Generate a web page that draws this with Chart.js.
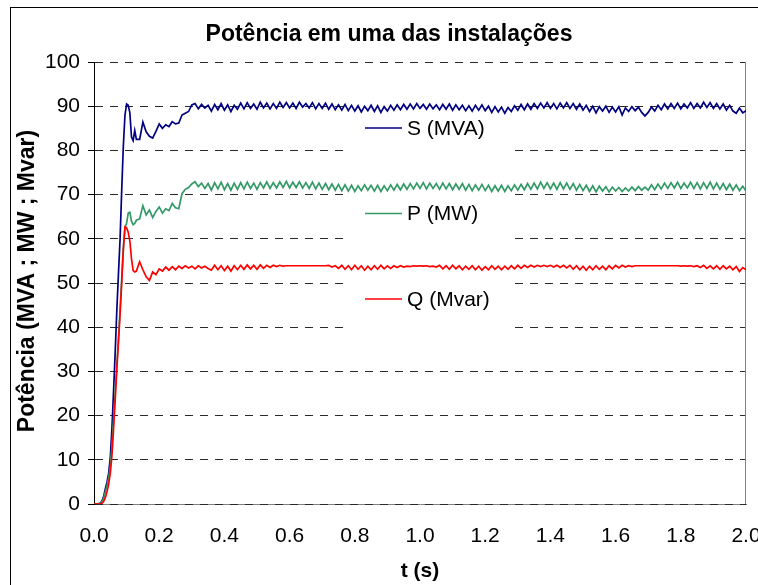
<!DOCTYPE html>
<html>
<head>
<meta charset="utf-8">
<script src="https://cdn.jsdelivr.net/npm/chart.js@4/dist/chart.umd.min.js"></script>
<style>
html,body{margin:0;padding:0;background:#fff;}
#wrap{width:758px;height:585px;}
</style>
</head>
<body>
<div id="wrap"><canvas id="c" width="758" height="585"></canvas></div>
<script>
// ---------- DATA ----------
const chartTitle = 'Potência em uma das instalações';
const xAxisTitle = 't (s)';
const yAxisTitle = 'Potência (MVA ; MW ; Mvar)';
const seriesNames = ['S (MVA)', 'P (MW)', 'Q (Mvar)'];

const xTickValues = [0,0.2,0.4,0.6,0.8,1.0,1.2,1.4,1.6,1.8,2.0];
const xTickLabels = ['0.0','0.2','0.4','0.6','0.8','1.0','1.2','1.4','1.6','1.8','2.0'];
const yTickValues = [0,10,20,30,40,50,60,70,80,90,100];
const yTickLabels = ['0','10','20','30','40','50','60','70','80','90','100'];

const time = [
0,0.01,0.02,0.025,0.03,0.035,0.04,0.045,0.05,0.055,0.06,0.065,0.07,0.075,0.08,0.085,0.09,0.095,0.10,0.105,0.11,0.115,0.12,0.125,0.13,
0.14,0.15,0.16,0.17,0.18,0.19,0.20,0.21,0.22,0.23,0.24,0.25,0.26,0.27,0.28,0.29,0.30,0.31,0.32,0.33,0.34,0.35,
0.36,0.37,0.38,0.39,0.40,0.41,0.42,0.43,0.44,0.45,
0.46,0.47,0.48,0.49,0.50,0.51,0.52,0.53,0.54,0.55,
0.56,0.57,0.58,0.59,0.60,0.61,0.62,0.63,0.64,0.65,
0.66,0.67,0.68,0.69,0.70,0.71,0.72,0.73,0.74,0.75,
0.76,0.77,0.78,0.79,0.80,0.81,0.82,0.83,0.84,0.85,
0.86,0.87,0.88,0.89,0.90,0.91,0.92,0.93,0.94,0.95,
0.96,0.97,0.98,0.99,1.00,1.01,1.02,1.03,1.04,1.05,
1.06,1.07,1.08,1.09,1.10,1.11,1.12,1.13,1.14,1.15,
1.16,1.17,1.18,1.19,1.20,1.21,1.22,1.23,1.24,1.25,
1.26,1.27,1.28,1.29,1.30,1.31,1.32,1.33,1.34,1.35,
1.36,1.37,1.38,1.39,1.40,1.41,1.42,1.43,1.44,1.45,
1.46,1.47,1.48,1.49,1.50,1.51,1.52,1.53,1.54,1.55,
1.56,1.57,1.58,1.59,1.60,1.61,1.62,1.63,1.64,1.65,
1.66,1.67,1.68,1.69,1.70,1.71,1.72,1.73,1.74,1.75,
1.76,1.77,1.78,1.79,1.80,1.81,1.82,1.83,1.84,1.85,
1.86,1.87,1.88,1.89,1.90,1.91,1.92,1.93,1.94,1.95,
1.96,1.97,1.98,1.99,2.00
];

const sMVA = [
0,0,0.2,0.8,1.8,3.5,5,7,10.5,17,25.5,34.3,43.8,52,60,71,81,88,90.5,90.2,88.5,83,82.2,84.5,82.5,
82.5,86.4,84.2,83.2,82.8,84.3,86.0,85.0,85.8,85.4,86.5,86.0,86.2,88.0,88.4,88.8,90.3,90.6,89.4,90.4,89.6,90.2,
88.9,90.4,89.2,90.6,89.1,90.3,88.8,90.2,89.3,90.7,
89.4,90.8,89.5,90.5,89.3,90.9,89.6,90.7,89.4,90.6,
89.5,90.9,89.7,90.8,89.6,90.7,89.5,90.9,89.8,90.6,
89.6,90.8,89.4,90.6,89.5,90.7,89.3,90.5,89.2,90.3,
89.1,90.4,89.0,90.2,88.9,90.1,88.7,90.0,89.0,90.2,
88.8,90.1,88.6,89.9,88.9,90.2,89.1,90.3,89.2,90.4,
89.3,90.5,89.4,90.6,89.5,90.4,89.3,90.5,89.4,90.3,
89.2,90.4,89.3,90.5,89.1,90.3,89.2,90.2,89.0,90.1,
88.9,90.2,89.1,90.3,89.0,90.0,88.6,89.9,88.7,89.8,
88.4,89.7,88.8,90.1,89.1,90.4,89.2,90.5,89.3,90.6,
89.5,90.7,89.6,90.8,89.5,90.6,89.4,90.7,89.6,90.8,
89.5,90.6,89.3,90.5,89.1,90.2,88.8,90.0,88.5,89.9,
88.9,90.0,88.6,89.8,88.7,89.9,88.0,89.6,88.8,89.9,
89.0,89.8,88.6,87.8,88.6,89.8,88.9,90.2,89.2,90.5,
89.4,90.6,89.5,90.7,89.4,90.5,89.6,90.8,89.5,90.6,
89.6,90.9,89.7,90.8,89.5,90.6,89.4,90.5,89.1,90.2,
88.9,88.4,89.6,88.5,89.0
];

const pMW = [
0,0,0.1,0.6,1.4,2.8,4.2,6,8.5,13,19,25,31.5,37.5,44,51,58,62.5,63.5,65.8,66,64,63.2,63.5,64.2,
64.5,67.5,65.4,66.5,64.8,66.2,67.2,65.8,66.8,66.4,68.0,67.0,66.8,70.2,71.2,71.6,72.4,72.9,71.8,72.6,71.4,72.5,
71.0,72.7,71.3,72.8,71.1,72.5,71.0,72.6,71.2,72.7,
71.3,72.8,71.4,72.6,71.2,72.7,71.5,72.9,71.4,72.7,
71.5,72.9,71.6,73.0,71.5,72.8,71.6,72.9,71.5,72.7,
71.4,72.8,71.3,72.6,71.2,72.5,71.1,72.4,71.0,72.3,
70.9,72.2,70.8,72.1,70.7,72.0,70.9,72.2,71.0,72.1,
70.8,72.1,70.7,72.0,70.9,72.2,71.0,72.3,71.1,72.4,
71.2,72.5,71.3,72.6,71.4,72.7,71.3,72.6,71.4,72.5,
71.2,72.6,71.3,72.5,71.1,72.4,71.2,72.5,71.0,72.3,
70.9,72.2,71.0,72.3,70.9,72.1,70.7,72.0,70.8,72.1,
70.7,72.0,70.9,72.2,71.0,72.3,71.1,72.5,71.2,72.6,
71.3,72.8,71.4,72.7,71.3,72.6,71.2,72.7,71.3,72.6,
71.2,72.5,71.0,72.3,70.9,72.1,70.7,72.0,70.6,71.9,
70.8,71.8,70.6,71.7,70.8,71.6,70.7,71.5,70.8,71.7,
70.9,71.8,71.0,71.7,71.0,72.2,71.1,72.4,71.3,72.6,
71.4,72.7,71.5,72.8,71.4,72.6,71.5,72.8,71.4,72.7,
71.3,72.7,71.4,72.8,71.3,72.6,71.2,72.5,71.1,72.4,
71.0,72.2,70.9,71.9,70.8
];

const qMvar = [
0,0,0,0.2,0.6,1.5,2.8,4.5,7,11,17,23.5,30.5,36.5,43,50,57.5,62.7,62.5,61.5,59.5,55.5,52.8,52.5,52.7,
54.8,53.0,51.4,50.6,52.5,51.9,53.2,52.7,53.6,52.9,53.7,53.0,53.8,53.3,53.9,53.4,53.8,53.2,53.9,53.4,53.8,53.3,
52.9,54.0,53.0,53.9,52.8,53.8,52.7,53.9,53.0,54.0,
53.1,54.1,53.2,54.0,53.1,54.1,53.3,54.0,53.5,54.0,
53.7,54.0,53.8,53.9,53.9,53.9,53.9,53.9,53.9,53.9,
53.9,53.9,53.9,53.9,53.9,53.9,54.0,53.6,53.9,53.3,
54.0,53.1,53.9,53.0,54.0,53.1,53.9,52.9,53.8,53.0,
53.9,53.1,54.0,53.2,53.9,53.3,53.9,53.5,53.9,53.6,
53.8,53.7,53.9,53.8,53.9,53.8,53.9,53.7,53.8,53.6,
54.0,53.2,53.9,53.1,54.0,53.2,53.9,53.0,53.8,53.1,
53.9,53.0,53.8,52.9,53.7,53.0,53.9,53.1,53.8,53.0,
53.8,53.1,53.9,53.2,54.0,53.3,54.0,53.5,54.0,53.6,
54.0,53.7,54.0,53.7,54.0,53.6,54.0,53.5,54.0,53.4,
54.0,53.1,53.9,53.0,53.8,52.9,53.8,53.0,53.9,53.1,
53.8,53.0,53.9,53.2,54.0,53.4,54.0,53.6,53.9,53.7,
53.9,53.9,53.9,53.9,53.9,53.9,53.9,53.9,53.9,53.9,
53.9,53.9,53.9,53.9,53.8,53.9,53.8,53.9,53.7,53.9,
53.5,54.0,53.3,53.9,53.2,53.9,53.1,53.9,53.2,53.8,
53.0,53.7,52.6,53.5,53.0
];

const seriesColors = ['#000080', '#339966', '#FF0000'];

// ---------- CHART ----------
const FONT = "'Liberation Sans', Arial, sans-serif";
Chart.defaults.font.family = FONT;
Chart.defaults.color = '#000';

function pts(ys){ return time.map((t,i)=>({x:t, y:ys[i]})); }

const decor = {
  id: 'decor',
  beforeDraw(chart){
    const ctx = chart.ctx;
    ctx.save();
    ctx.fillStyle = '#fff';
    ctx.fillRect(0,0,chart.width,chart.height);
    ctx.strokeStyle = '#000';
    ctx.lineWidth = 1;
    ctx.strokeRect(10.5, 7.5, 770, 600);
    ctx.restore();
  },
  beforeDatasetsDraw(chart){
    const ctx = chart.ctx, a = chart.chartArea;
    ctx.save();
    ctx.strokeStyle = '#808080';
    ctx.lineWidth = 1;
    ctx.beginPath();
    ctx.moveTo(a.right - 0.5, a.top);
    ctx.lineTo(a.right - 0.5, a.bottom);
    ctx.stroke();
    ctx.fillStyle = '#fff';
    ctx.fillRect(a.left + 254, a.top + 34, 160, 244);
    ctx.restore();
  },
  afterDatasetsDraw(chart){
    const ctx = chart.ctx, a = chart.chartArea;
    ctx.save();
    const ys = [a.top + 66, a.top + 151.5, a.top + 237];
    for (let i = 0; i < seriesNames.length; i++){
      ctx.strokeStyle = seriesColors[i];
      ctx.lineWidth = 1.6;
      ctx.beginPath();
      ctx.moveTo(a.left + 271, ys[i]);
      ctx.lineTo(a.left + 308, ys[i]);
      ctx.stroke();
      ctx.fillStyle = '#000';
      ctx.font = '21px ' + FONT;
      ctx.textAlign = 'left';
      ctx.textBaseline = 'middle';
      ctx.fillText(seriesNames[i], a.left + 313, ys[i] + 1);
    }
    ctx.restore();
  },
  afterDraw(chart){
    const ctx = chart.ctx, a = chart.chartArea;
    ctx.save();
    ctx.fillStyle = '#000';
    ctx.textAlign = 'center';
    ctx.textBaseline = 'alphabetic';
    ctx.font = 'bold 23px ' + FONT;
    ctx.fillText(chartTitle, 389, 41);
    ctx.font = 'bold 21px ' + FONT;
    ctx.textBaseline = 'middle';
    ctx.fillText(xAxisTitle, (a.left + a.right)/2, 571);
    ctx.translate(28, (a.top + a.bottom)/2 - 2);
    ctx.rotate(-Math.PI/2);
    ctx.font = 'bold 23px ' + FONT;
    ctx.fillText(yAxisTitle, 0, 0);
    ctx.restore();
  }
};

const mkDs = (i, ys, order) => ({
  label: seriesNames[i],
  data: pts(ys),
  borderColor: seriesColors[i],
  backgroundColor: seriesColors[i],
  borderWidth: 1.7,
  pointRadius: 0,
  tension: 0,
  fill: false,
  order: order
});

new Chart(document.getElementById('c'), {
  type: 'line',
  data: {
    datasets: [ mkDs(0, sMVA, 2), mkDs(1, pMW, 1), mkDs(2, qMvar, 0) ]
  },
  options: {
    responsive: false,
    animation: false,
    devicePixelRatio: 1,
    layout: { padding: { left: 10, top: 62, right: 12, bottom: 0 }, autoPadding: false },
    plugins: { legend: { display: false }, title: { display: false }, tooltip: { enabled: false } },
    scales: {
      x: {
        type: 'linear', min: 0, max: 2,
        grid: { display: false, drawTicks: false },
        border: { display: true, color: '#808080', width: 1, z: -1 },
        ticks: {
          autoSkip: false, maxRotation: 0, padding: 20,
          font: { size: 21 }, color: '#000',
          callback: (v, i) => xTickLabels[i]
        },
        afterBuildTicks: s => { s.ticks = xTickValues.map(v => ({ value: v })); },
        afterFit: s => { s.height = 81; s.paddingLeft = 0; s.paddingRight = 0; }
      },
      y: {
        min: 0, max: 100,
        grid: { color: '#2a2a2a', lineWidth: 1, drawTicks: true, tickLength: 6, tickColor: '#000', tickBorderDash: [] },
        border: { display: true, color: '#000', width: 1, dash: [8, 7] },
        ticks: {
          autoSkip: false, padding: 8,
          font: { size: 21 }, color: '#000',
          callback: (v, i) => yTickLabels[i]
        },
        afterBuildTicks: s => { s.ticks = yTickValues.map(v => ({ value: v })); },
        afterFit: s => { s.width = 84; s.paddingTop = 0; s.paddingBottom = 0; }
      }
    }
  },
  plugins: [decor]
});
</script>
</body>
</html>
